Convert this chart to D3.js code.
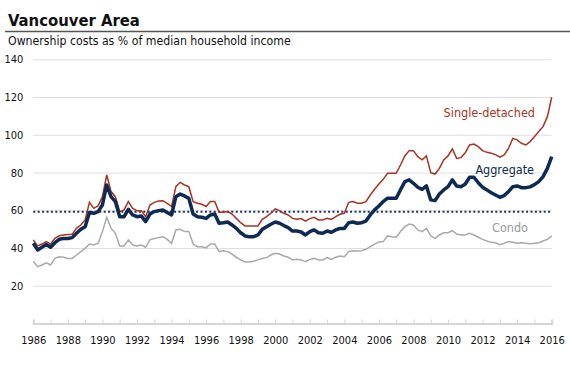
<!DOCTYPE html>
<html>
<head>
<meta charset="utf-8">
<script src="https://cdn.jsdelivr.net/npm/d3@7"></script>
<style>
    body { margin: 0; background: #ffffff; }
    text { font-family: "DejaVu Sans Condensed", "Liberation Sans", sans-serif; }
</style>
</head>
<body>
<div id="chart"></div>
<script>
const svgWidth = 570
const svgHeight = 369

// quarterly readings, 1986 Q1 .. 2016 Q1
const startYear = 1986
const endYear = 2016

const aggregate = [
    42.5, 39.0, 40.4, 41.8,  40.4, 42.8, 44.6, 45.0,  45.0, 45.5, 47.8, 49.9,
    51.3, 58.8, 58.4, 59.3,  62.8, 73.4, 67.2, 64.6,  56.6, 56.6, 60.5, 57.5,
    56.6, 57.0, 54.0, 58.0,  59.3, 59.8, 60.2, 58.8,  57.5, 67.2, 68.6, 67.6,
    66.3, 58.0, 56.6, 56.3,  55.7, 57.5, 58.0, 53.1,  53.4, 53.8, 52.2, 50.4,
    48.1, 46.4, 46.0, 46.0,  46.9, 49.9, 51.3, 52.6,  53.8, 53.1, 51.9, 50.8,
    49.0, 49.0, 48.5, 46.9,  48.7, 49.6, 48.1, 47.8,  49.0, 48.3, 49.6, 50.4,
    50.4, 53.4, 53.8, 53.1,  53.4, 54.3, 57.5, 60.2,  62.3, 64.6, 66.4, 66.4,
    66.4, 70.8, 75.2, 76.1,  74.3, 72.2, 71.1, 72.9,  65.5, 65.1, 68.6, 70.8,
    72.5, 76.1, 72.9, 72.5,  73.9, 77.5, 77.5, 74.6,  72.2, 70.8, 69.3, 68.1,
    66.9, 67.8, 69.9, 72.5,  72.9, 72.0, 72.0, 72.4,  73.6, 75.2, 77.8, 82.2,
    88.4
]

const singleDetached = [
    44.3, 41.1, 42.1, 43.4,  42.1, 45.1, 46.5, 46.9,  47.1, 47.3, 50.4, 52.2,
    54.9, 64.2, 61.0, 62.3,  67.2, 78.7, 69.9, 67.2,  59.3, 60.2, 64.6, 61.0,
    59.8, 59.8, 56.6, 62.8,  64.2, 64.9, 65.1, 63.7,  62.0, 72.5, 74.8, 73.4,
    72.5, 64.6, 63.7, 63.2,  62.0, 64.6, 64.6, 58.9,  58.9, 59.3, 58.0, 55.7,
    53.4, 51.7, 51.7, 51.7,  51.7, 55.2, 56.6, 58.4,  60.7, 59.8, 58.4, 57.5,
    55.7, 55.2, 55.6, 54.3,  55.6, 56.3, 54.9, 54.9,  55.7, 55.2, 56.6, 57.9,
    58.4, 64.2, 64.6, 63.7,  63.7, 64.6, 68.1, 71.1,  73.9, 76.4, 79.6, 79.6,
    79.6, 84.0, 88.8, 91.6,  91.6, 88.4, 86.7, 88.8,  79.9, 79.2, 82.2, 86.7,
    88.8, 92.5, 87.5, 87.9,  90.5, 94.6, 95.1, 93.7,  91.6, 90.7, 90.2, 89.5,
    88.1, 89.3, 92.8, 98.1,  97.3, 95.5, 94.6, 96.4,  99.0, 101.7, 104.3, 109.6,
    119.9
]

const condo = [
    32.8, 30.1, 31.0, 32.2,  31.0, 34.5, 35.4, 35.1,  34.5, 34.5, 36.3, 38.1,
    39.8, 42.1, 41.6, 42.5,  48.7, 56.3, 50.4, 47.8,  41.1, 41.1, 44.3, 41.6,
    41.1, 41.6, 40.4, 44.3,  45.0, 45.5, 46.0, 44.6,  42.5, 49.6, 49.9, 48.7,
    48.7, 42.1, 40.7, 40.7,  40.1, 42.1, 42.1, 38.1,  38.6, 38.1, 36.8, 35.1,
    33.7, 32.6, 32.6, 33.0,  33.7, 34.4, 34.9, 36.3,  37.2, 36.8, 35.8, 35.1,
    33.7, 34.0, 33.7, 32.8,  34.0, 34.5, 33.7, 33.7,  34.9, 34.0, 35.1, 35.8,
    35.4, 38.1, 38.6, 38.4,  38.6, 39.3, 40.7, 42.1,  43.2, 43.4, 46.4, 46.0,
    45.7, 48.7, 51.3, 52.7,  52.2, 49.6, 48.7, 50.4,  46.4, 45.1, 46.9, 48.1,
    48.1, 49.2, 47.4, 46.9,  46.9, 47.8, 46.9, 45.7,  44.6, 43.7, 43.0, 42.8,
    41.8, 42.5, 43.4, 43.0,  42.5, 42.8, 42.5, 42.3,  42.5, 42.8, 43.7, 44.6,
    46.4
]

const averageLine = 59.2

const yTicks = [20, 40, 60, 80, 100, 120, 140]
const xLabelYears = d3.range(1986, 2017, 2)
const xTickYears = d3.range(1986, 2017, 1)

const svg = d3.select("#chart").append("svg")
    .attr("width", svgWidth)
    .attr("height", svgHeight)

// title block
svg.append("text")
    .attr("x", 8)
    .attr("y", 26)
    .attr("font-size", 16.5)
    .attr("font-weight", "bold")
    .attr("fill", "#111")
    .text("Vancouver Area")

svg.append("line")
    .attr("x1", 5).attr("x2", 570)
    .attr("y1", 31.5).attr("y2", 31.5)
    .attr("stroke", "#555")
    .attr("stroke-width", 1.5)

svg.append("text")
    .attr("x", 8)
    .attr("y", 45)
    .attr("font-size", 12.2)
    .attr("fill", "#111")
    .text("Ownership costs as % of median household income")

const x = d3.scaleLinear()
    .domain([startYear, endYear])
    .range([33.3, 551.7])

const y = d3.scaleLinear()
    .domain([0, 140])
    .range([323.5, 59.3])

// gridlines + y labels
const yAxisG = svg.append("g")
    .attr("transform", `translate(${x(startYear)}, 0)`)
    .call(d3.axisLeft(y)
        .tickValues(yTicks)
        .tickSize(-(x(endYear) - x(startYear)))
        .tickPadding(10))

yAxisG.select(".domain").remove()
yAxisG.selectAll(".tick line")
    .attr("stroke", "#dedede")
yAxisG.selectAll(".tick text")
    .attr("font-size", 11)
    .attr("fill", "#111")
    .style("font-family", "\"DejaVu Sans Condensed\", \"Liberation Sans\", sans-serif")

// x axis: small yearly ticks pointing up
const xAxisG = svg.append("g")
    .attr("transform", `translate(0, ${y(0)})`)
    .call(d3.axisBottom(x)
        .tickValues(xTickYears)
        .tickSize(-4)
        .tickFormat(d => xLabelYears.includes(d) ? d : "")
        .tickPadding(13))

xAxisG.select(".domain")
    .attr("stroke", "#d6d6d6")
    .attr("stroke-width", 2)
xAxisG.selectAll(".tick line")
    .attr("stroke", "#d6d6d6")
xAxisG.selectAll(".tick text")
    .attr("font-size", 11)
    .attr("fill", "#111")
    .style("font-family", "\"DejaVu Sans Condensed\", \"Liberation Sans\", sans-serif")

// dotted average line
svg.append("line")
    .attr("x1", x(startYear)).attr("x2", x(endYear))
    .attr("y1", y(averageLine)).attr("y2", y(averageLine))
    .attr("stroke", "#1b3563")
    .attr("stroke-width", 2)
    .attr("stroke-dasharray", "2,2.4")

const line = d3.line()
    .x((d, i) => x(startYear + i / 4))
    .y(d => y(d))

svg.append("path")
    .datum(condo)
    .attr("d", line)
    .attr("fill", "none")
    .attr("stroke", "#a9a9a9")
    .attr("stroke-width", 1.5)

svg.append("path")
    .datum(singleDetached)
    .attr("d", line)
    .attr("fill", "none")
    .attr("stroke", "#a83424")
    .attr("stroke-width", 1.5)

svg.append("path")
    .datum(aggregate)
    .attr("d", line)
    .attr("fill", "none")
    .attr("stroke", "#0d2a55")
    .attr("stroke-width", 3.5)
    .attr("stroke-linejoin", "round")

// series labels
svg.append("text")
    .attr("x", 535)
    .attr("y", 117)
    .attr("text-anchor", "end")
    .attr("font-size", 12.5)
    .attr("fill", "#a83424")
    .text("Single-detached")

svg.append("text")
    .attr("x", 534)
    .attr("y", 174)
    .attr("text-anchor", "end")
    .attr("font-size", 12.5)
    .attr("fill", "#0d2a55")
    .text("Aggregate")

svg.append("text")
    .attr("x", 528)
    .attr("y", 232)
    .attr("text-anchor", "end")
    .attr("font-size", 12.5)
    .attr("fill", "#9a9a9a")
    .text("Condo")
</script>
</body>
</html>
